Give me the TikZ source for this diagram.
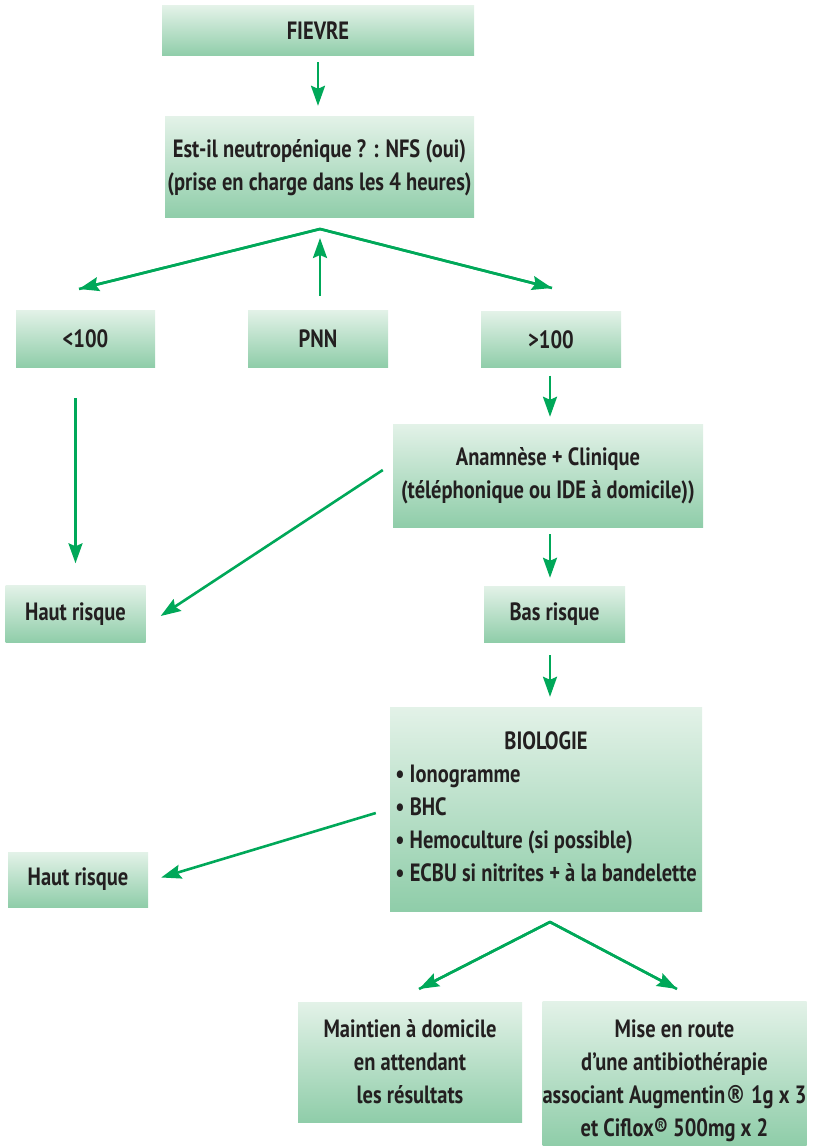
\documentclass[tikz,border=0pt]{standalone}
\usepackage{fontspec}
\setmainfont{PT Sans}[FakeStretch=0.82]
\newfontfamily\regfont{DejaVu Sans}[FakeStretch=0.82]
\usepackage{xcolor}
\usetikzlibrary{arrows.meta,positioning}
\definecolor{boxtop}{HTML}{E3F2E8}
\definecolor{boxbot}{HTML}{8FCDA9}
\definecolor{flowgreen}{HTML}{00A859}
\definecolor{ink}{HTML}{231F20}
\newcommand{\bigreg}{{\regfont ®}}
\tikzset{
  box/.style={top color=boxtop,bottom color=boxbot,draw=none,text=ink,
    font=\fontsize{25}{33}\selectfont\bfseries,align=center,inner sep=0pt},
  boxtext/.style={text=ink,font=\fontsize{25}{33}\selectfont\bfseries,align=center,inner sep=0pt},
  flow/.style={-{Stealth[length=20pt,width=14pt,inset=3pt]},draw=flowgreen,line width=2.6pt},
  stem/.style={draw=flowgreen,line width=2.6pt,line join=miter}
}
\begin{document}
\begin{tikzpicture}[x=1pt,y=-1pt]
  \useasboundingbox (0,0) rectangle (812,1147);
  % boxes
  \node[box,minimum width=312pt,minimum height=50pt] (fievre) at (318,31) {FIEVRE};
  \node[box,minimum width=309pt,minimum height=101pt] (nfs) at (319.5,167.5)
    {Est-il neutropénique ? : NFS (oui)\\(prise en charge dans les 4 heures)};
  \node[box,minimum width=139pt,minimum height=57pt] (low) at (85.5,338.5) {<100};
  \node[box,minimum width=140pt,minimum height=57pt] (pnn) at (318,338.5) {PNN};
  \node[box,minimum width=140pt,minimum height=56pt] (high) at (551,339.5) {>100};
  \node[box,minimum width=310pt,minimum height=103pt] (anam) at (548,475.5)
    {Anamnèse + Clinique\\(téléphonique ou IDE à domicile))};
  \node[box,minimum width=140pt,minimum height=57pt] (haut1) at (75.5,614) {Haut risque};
  \node[box,minimum width=141pt,minimum height=56pt] (bas) at (554.5,614) {Bas risque};
  \node[box,minimum width=312pt,minimum height=204pt] (bio) at (546,809)
    {\begin{tabular}{@{}l@{}}
      \multicolumn{1}{@{}c@{}}{BIOLOGIE}\\
      • Ionogramme\\
      • BHC\\
      • Hemoculture (si possible)\\
      • ECBU si nitrites + à la bandelette
    \end{tabular}};
  \node[box,minimum width=140pt,minimum height=55pt] (haut2) at (78,879.5) {Haut risque};
  \node[box,minimum width=224pt,minimum height=120pt] (maint) at (410,1062)
    {Maintien à domicile\\en attendant\\les résultats};
  \node[box,minimum width=264pt,minimum height=144pt] (mise) at (674.5,1073) {};
  \node[boxtext] (misetext) at ([yshift=-8pt]mise.center)
    {Mise en route\\d’une antibiothérapie\\associant Augmentin\bigreg{} 1g x 3\\et Ciflox® 500mg x 2};
  % branch points
  \coordinate (split1) at (320,229);
  \coordinate (lowtip) at (79,289);
  \coordinate (hightip) at (552,288);
  \coordinate (split2) at (550,922);
  \coordinate (mainttip) at (419,989);
  \coordinate (misetip) at (677,989);
  % connectors
  \draw[flow,shorten <=6pt,shorten >=11pt] (fievre.south) -- (fievre.south |- nfs.north);
  \draw[stem] (lowtip) -- (split1) -- (hightip);
  \draw[flow] (split1) -- (lowtip);
  \draw[flow] (split1) -- (hightip);
  \draw[flow,shorten <=14pt,shorten >=9pt] (pnn.north -| split1) -- (split1);
  \draw[flow,shorten <=31pt,shorten >=22pt] (haut1.north |- low.south) -- (haut1.north);
  \draw[flow,shorten <=8pt,shorten >=7pt] (high.south -| split2) -- (split2 |- anam.north);
  \draw[flow] ([xshift=-10pt,yshift=5.5pt]anam.west) -- ([xshift=15pt,yshift=-2pt]haut1.east);
  \draw[flow,shorten <=7pt,shorten >=8pt] (anam.south -| split2) -- (split2 |- bas.north);
  \draw[flow,shorten <=13pt,shorten >=10pt] (bas.south -| split2) -- (split2 |- bio.north);
  \draw[flow] ([xshift=-14pt,yshift=-4pt]bio.west) -- ([xshift=13pt,yshift=2pt]haut2.east);
  \draw[stem] (mainttip) -- (split2) -- (misetip);
  \draw[flow] (split2) -- (mainttip);
  \draw[flow] (split2) -- (misetip);
\end{tikzpicture}
\end{document}
